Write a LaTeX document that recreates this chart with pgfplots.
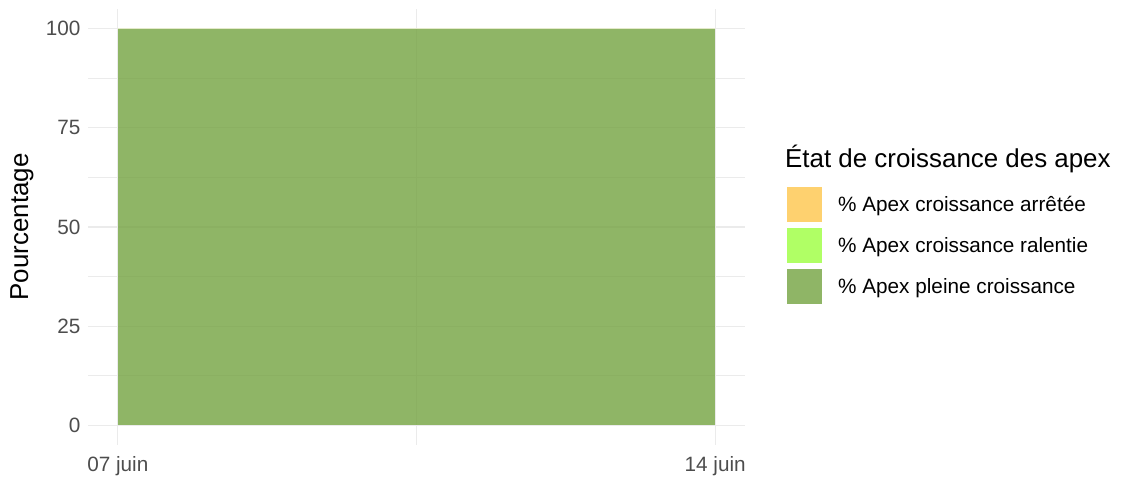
\documentclass[border=0pt]{standalone}
\usepackage{pgfplots}
\pgfplotsset{compat=1.18}
\usepackage{fontspec}
\setmainfont{Liberation Sans}

% colours before the 0.8 alpha of the areas
\definecolor{arretee}{HTML}{FEC64B}
\definecolor{ralentie}{HTML}{9CFF3F}
\definecolor{pleine}{HTML}{73A240}
\definecolor{gridc}{HTML}{EBEBEB}
\definecolor{tickc}{HTML}{4D4D4D}

\pgfplotsset{
  sq/.style={legend image code/.code={%
    \fill[##1,draw=none] (0bp,-17.5bp) rectangle (35bp,17.5bp);}},
}

\begin{document}
\begin{tikzpicture}[x=1bp,y=1bp]
\useasboundingbox (0,0) rectangle (1123,479);
\begin{axis}[
  at={(88bp,34bp)}, anchor=south west,
  width=657bp, height=436bp, scale only axis,
  xmin=6.65, xmax=14.35, ymin=-5, ymax=105,
  axis line style={draw=none},
  tick style={draw=none}, major tick length=0pt, minor tick length=0pt,
  xtick={7,14}, xticklabels={07 juin,14 juin}, minor xtick={10.5},
  ytick={0,25,50,75,100}, minor ytick={12.5,37.5,62.5,87.5},
  grid=both,
  major grid style={color=gridc, line width=1.1bp},
  minor grid style={color=gridc, line width=0.55bp},
  /pgf/number format/assume math mode=true,
  tick label style={font=\fontsize{20.8}{20.8}\selectfont, text=tickc},
  xticklabel style={yshift=-8bp},
  yticklabel style={xshift=-4bp},
  ylabel={Pourcentage},
  ylabel style={font=\fontsize{26}{26}\selectfont,
    at={(axis description cs:-0.1005,0.5)}, anchor=center},
  stack plots=y,
  legend style={at={(1,0.5)}, anchor=west, xshift=42bp, yshift=-18.5bp,
    draw=none, fill=none, row sep=6bp, inner sep=0pt,
    font=\fontsize{20.8}{20.8}\selectfont,
    nodes={inner sep=0pt},
    /tikz/every even column/.append style={column sep=0pt},
    /tikz/every odd column/.append style={column sep=16bp}},
  legend cell align=left,
  reverse legend,
]
\addplot[fill=pleine, fill opacity=0.8, draw=none, sq]
  coordinates {(7,100) (14,100)} \closedcycle;
\addlegendentry{\% Apex pleine croissance}
\addplot[fill=ralentie, fill opacity=0.8, draw=none, sq]
  coordinates {(7,0) (14,0)} \closedcycle;
\addlegendentry{\% Apex croissance ralentie}
\addplot[fill=arretee, fill opacity=0.8, draw=none, sq]
  coordinates {(7,0) (14,0)} \closedcycle;
\addlegendentry{\% Apex croissance arrêtée}
\end{axis}
\node[anchor=base west, font=\fontsize{26}{26}\selectfont, inner sep=0pt]
  at (785,311) {État de croissance des apex};
\end{tikzpicture}
\end{document}
